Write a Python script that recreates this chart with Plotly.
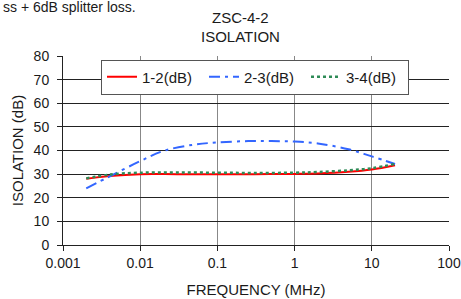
import plotly.graph_objects as go

freq_12 = [0.002, 0.004, 0.01, 0.03, 0.1, 0.3, 1, 2, 5, 10, 20]
iso_12 = [28.0, 29.2, 30.0, 30.0, 30.0, 30.0, 30.1, 30.3, 31.0, 32.0, 33.8]

freq_23 = [0.002, 0.004, 0.01, 0.02, 0.05, 0.1, 0.25, 0.5, 1, 2, 5, 10, 20]
iso_23 = [24.0, 29.0, 35.5, 39.8, 42.5, 43.4, 44.0, 44.0, 43.8, 43.0, 40.5, 37.5, 34.3]

freq_34 = [0.002, 0.004, 0.01, 0.03, 0.1, 0.3, 1, 2, 5, 10, 20]
iso_34 = [28.2, 29.8, 30.6, 30.7, 30.6, 30.5, 30.6, 30.9, 31.6, 32.5, 34.3]

x_ticks = [0.001, 0.01, 0.1, 1, 10, 100]
x_tick_labels = ["0.001", "0.01", "0.1", "1", "10", "100"]
y_ticks = [0, 10, 20, 30, 40, 50, 60, 70, 80]

font = "Liberation Sans, Arial, sans-serif"
TXT = "#1a1a1a"

fig = go.Figure()
fig.add_trace(go.Scatter(x=freq_12, y=iso_12, mode="lines", name="1-2(dB)",
                         line=dict(color="#ff0000", width=2, shape="spline")))
fig.add_trace(go.Scatter(x=freq_23, y=iso_23, mode="lines", name="2-3(dB)",
                         line=dict(color="#3366ff", width=2, dash="11px,5px,3px,5px", shape="spline")))
fig.add_trace(go.Scatter(x=freq_34, y=iso_34, mode="lines", name="3-4(dB)",
                         line=dict(color="#2e8b57", width=2.5, dash="3px,3px", shape="spline")))

L, R, T, B = 63, 12, 56, 54
W, H = 461, 299
pw = W - L - R
ph = H - T - B

def px_to_paper(xp, yp):
    return (xp - L) / pw, (H - B - yp) / ph

lx, ly = px_to_paper(101, 77)

fig.update_layout(
    width=W, height=H,
    margin=dict(l=L, r=R, t=T, b=B, autoexpand=False),
    paper_bgcolor="white", plot_bgcolor="white",
    font=dict(family=font, size=14, color=TXT),
    showlegend=True,
    legend=dict(orientation="h", x=lx, y=ly, xanchor="left", yanchor="middle",
                bgcolor="white", bordercolor="#555", borderwidth=1,
                entrywidth=57, entrywidthmode="pixels",
                font=dict(family=font, size=15, color=TXT),
                itemwidth=30, tracegroupgap=0),
)

ax, ay = px_to_paper(240, 18)
bx, by = px_to_paper(240, 36)
cx, cy = px_to_paper(1, 7)
fig.add_annotation(text="ZSC-4-2", x=ax, y=ay, xref="paper", yref="paper", showarrow=False,
                   xanchor="center", yanchor="middle", font=dict(size=15, family=font, color=TXT))
fig.add_annotation(text="ISOLATION", x=bx, y=by, xref="paper", yref="paper", showarrow=False,
                   xanchor="center", yanchor="middle", font=dict(size=15, family=font, color=TXT))
fig.add_annotation(text="ss + 6dB splitter loss.", x=cx, y=cy, xref="paper", yref="paper", showarrow=False,
                   xanchor="left", yanchor="middle", font=dict(size=14, family=font, color=TXT))

fig.update_xaxes(type="log", range=[-3, 2], tickvals=x_ticks, ticktext=x_tick_labels,
                 showgrid=True, gridcolor="#888888", gridwidth=1,
                 showline=True, linecolor="#222", linewidth=1,
                 ticks="outside", ticklen=5, tickcolor="#222", automargin=False,
                 title=dict(text="FREQUENCY (MHz)", font=dict(size=15, family=font, color=TXT), standoff=14),
                 tickfont=dict(size=14, family=font, color=TXT), zeroline=False)
fig.update_yaxes(range=[0, 80], tickvals=y_ticks,
                 showgrid=True, gridcolor="#222", gridwidth=1,
                 showline=True, linecolor="#222", linewidth=1,
                 ticks="outside", ticklen=5, tickcolor="#222", automargin=False,
                 ticklabelstandoff=5,
                 title=dict(text="ISOLATION (dB)", font=dict(size=15, family=font, color=TXT), standoff=6),
                 tickfont=dict(size=14, family=font, color=TXT), zeroline=False)

fig.write_html("out.html", config={"displayModeBar": False},
               post_script="document.body.style.margin='0';document.body.style.padding='0';document.body.style.overflow='hidden';")
